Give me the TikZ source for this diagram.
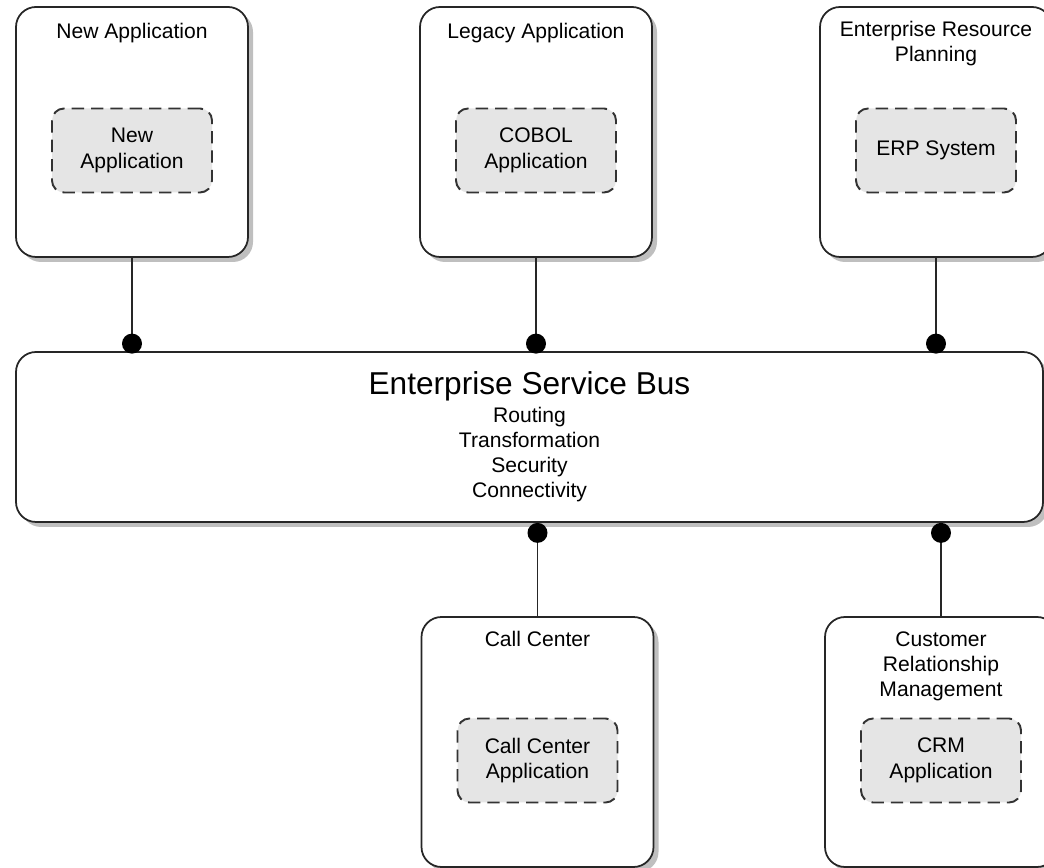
\documentclass[tikz,border=0pt]{standalone}
\usepackage{fontspec}
\setmainfont{Liberation Sans}
\usepackage{tikz}
\usetikzlibrary{positioning,shadows}

\begin{document}
\begin{tikzpicture}[
    system/.style={draw=black!85, line width=1pt, rounded corners=0.4cm, fill=white,
        minimum width=4.64cm, minimum height=5cm,
        drop shadow={shadow xshift=0.1cm, shadow yshift=-0.1cm, fill=black!50}},
    bus/.style={system, minimum width=20.54cm, minimum height=3.4cm, align=center,
        font=\fontsize{12}{14.2}\selectfont},
    app/.style={draw=black!80, line width=1.1pt, dash pattern=on 7pt off 4pt,
        rounded corners=0.24cm, fill=black!10, minimum width=3.2cm, minimum height=1.68cm,
        align=center, font=\fontsize{12}{14.6}\selectfont},
    title/.style={inner sep=0pt, align=center, font=\fontsize{12}{14.2}\selectfont},
    link/.style={draw=black!85, line width=1.1pt},
    joint/.style={fill=black}
]
                \useasboundingbox (0,0) rectangle (20.88,17.36);

                \node[system](newapp) at (2.64,14.72){};
                \node[system](legacy) at (10.72,14.72){};
                \node[system](erp) at (18.72,14.72){};
                \node[bus](esb) at (10.59,8.62){{\fontsize{18}{22}\selectfont Enterprise Service Bus}\\[1.7pt]
                    Routing\\ Transformation\\ Security\\ Connectivity};
                \node[system](callcenter) at (10.75,2.52){};
                \node[system](crm) at (18.82,2.52){};

                \node[title, below=0.33cm of newapp.north](newapptitle){New Application};
                \node[title, below=0.33cm of legacy.north](legacytitle){Legacy Application};
                \node[title, below=0.3cm of erp.north](erptitle){Enterprise Resource\\ Planning};
                \node[title, below=0.3cm of callcenter.north](callcentertitle){Call Center};
                \node[title, below=0.3cm of crm.north](crmtitle){Customer\\ Relationship\\ Management};

                \node[app](newcore) at ([yshift=-0.37cm]newapp.center){New\\ Application};
                \node[app](cobol) at ([yshift=-0.37cm]legacy.center){COBOL\\ Application};
                \node[app](erpcore) at ([yshift=-0.37cm]erp.center){ERP System};
                \node[app](callcore) at ([yshift=-0.37cm]callcenter.center){Call Center\\ Application};
                \node[app](crmcore) at ([yshift=-0.37cm]crm.center){CRM\\ Application};

                \coordinate (j1) at (newapp.south |- esb.north);
                \coordinate (j2) at (legacy.south |- esb.north);
                \coordinate (j3) at (erp.south |- esb.north);
                \coordinate (j4) at (callcenter.north |- esb.south);
                \coordinate (j5) at (crm.north |- esb.south);
                \draw[link] (newapp) -- (j1);
                \draw[link] (legacy) -- (j2);
                \draw[link] (erp) -- (j3);
                \draw[link] (callcenter) -- (j4);
                \draw[link] (crm) -- (j5);
                \fill[joint] ([yshift=0.15cm]j1) circle (0.2cm);
                \fill[joint] ([yshift=0.15cm]j2) circle (0.2cm);
                \fill[joint] ([yshift=0.15cm]j3) circle (0.2cm);
                \fill[joint] ([yshift=-0.2cm]j4) circle (0.2cm);
                \fill[joint] ([yshift=-0.2cm]j5) circle (0.2cm);

\end{tikzpicture}
\end{document}
